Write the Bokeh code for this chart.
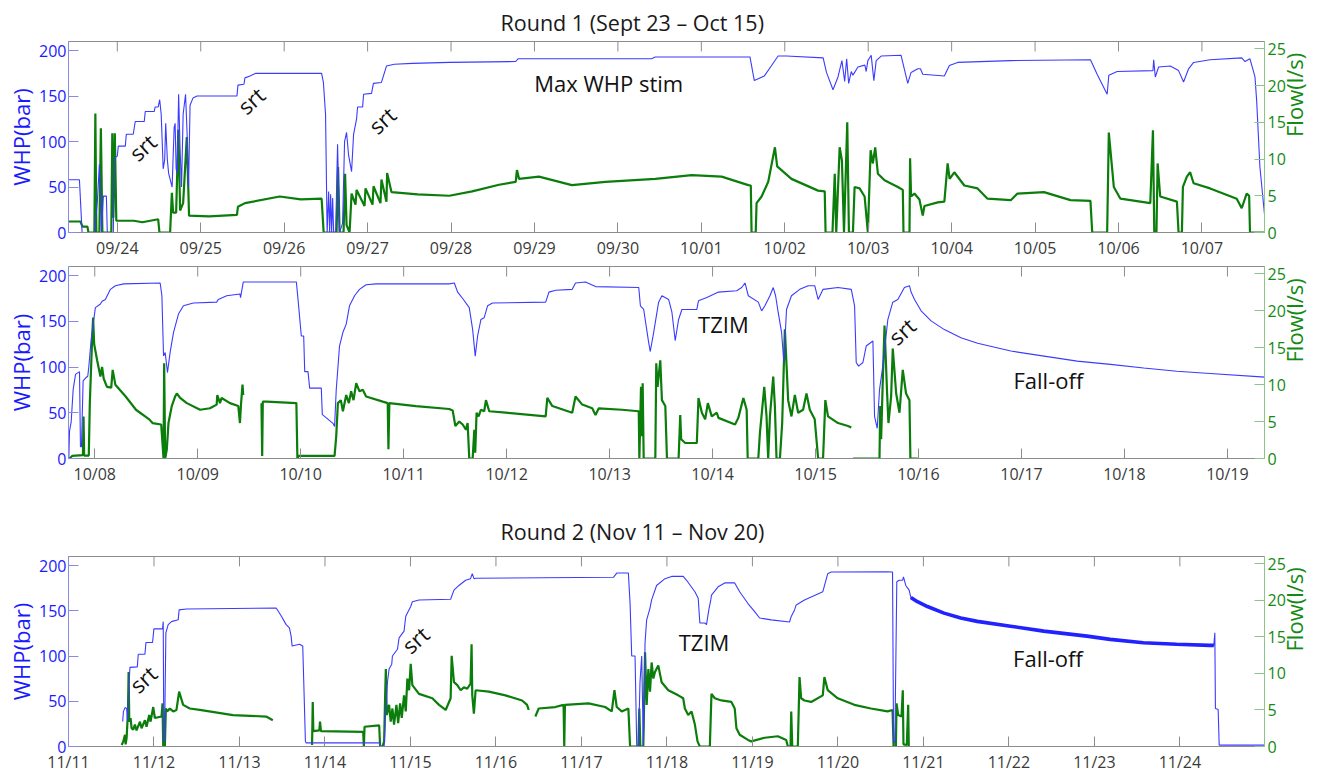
import math
from bokeh.plotting import figure
from bokeh.models import Range1d, LinearAxis, FixedTicker
from bokeh.layouts import column
from bokeh.embed import file_html
from bokeh.resources import INLINE
from bokeh.core.properties import value

nan = float("nan")

# ---------------- data (day of month, value) ----------------
r1_ticks = list(range(24, 38))
r1_labels = ["09/24", "09/25", "09/26", "09/27", "09/28", "09/29", "09/30",
             "10/01", "10/02", "10/03", "10/04", "10/05", "10/06", "10/07"]
r1b_ticks = list(range(8, 20))
r1b_labels = ["10/08", "10/09", "10/10", "10/11", "10/12", "10/13",
              "10/14", "10/15", "10/16", "10/17", "10/18", "10/19"]
r2_ticks = list(range(11, 25))
r2_labels = ["11/11", "11/12", "11/13", "11/14", "11/15", "11/16", "11/17",
             "11/18", "11/19", "11/20", "11/21", "11/22", "11/23", "11/24"]

whp_ticks = [0, 50, 100, 150, 200]
flow_ticks = [0, 5, 10, 15, 20, 25]

p1_whp = [(23.415, 58), (23.546, 58), (23.578, 0), (23.725, 0), (23.76, 33), (23.785, 75), (23.81, 0),
          (23.833, 40), (23.869, 40), (23.88, 0), (23.952, 0), (23.964, 82), (24.0, 84), (24.012, 95),
          (24.096, 95), (24.108, 108), (24.191, 108), (24.215, 122), (24.323, 122), (24.335, 133),
          (24.442, 133), (24.454, 138), (24.49, 138), (24.508, 146), (24.526, 130), (24.55, 70),
          (24.568, 80), (24.58, 120), (24.6, 80), (24.615, 65), (24.657, 50), (24.681, 115), (24.693, 120),
          (24.705, 70), (24.717, 65), (24.735, 152), (24.753, 90), (24.77, 50), (24.789, 130), (24.818, 152),
          (24.836, 110), (24.854, 50), (24.872, 140), (24.908, 148), (24.956, 150), (25.434, 150),
          (25.446, 162), (25.518, 163), (25.53, 170), (25.59, 172), (25.66, 175), (26.449, 175),
          (26.47, 165), (26.496, 130), (26.515, 0), (26.533, 45), (26.545, 0), (26.557, 42), (26.569, 0),
          (26.581, 38), (26.593, 0), (26.617, 0), (26.64, 97), (26.664, 0), (26.70, 10), (26.724, 100),
          (26.748, 110), (26.772, 85), (26.808, 67), (26.832, 108), (26.868, 125), (26.88, 138),
          (26.94, 138), (26.952, 152), (27.047, 153), (27.07, 164), (27.166, 165), (27.226, 183),
          (27.32, 185), (27.537, 186), (27.98, 187), (28.775, 188), (28.803, 191), (30.404, 191),
          (30.448, 193), (31.583, 193), (31.635, 167), (31.754, 172), (31.838, 183), (31.92, 194),
          (32.02, 194), (32.46, 192), (32.5, 176), (32.578, 157), (32.638, 171), (32.685, 189),
          (32.718, 166), (32.742, 191), (32.766, 164), (32.797, 177), (32.817, 173), (32.877, 182),
          (32.96, 184), (32.976, 177), (32.996, 189), (33.036, 194.8), (33.068, 167), (33.096, 189),
          (33.155, 194), (33.394, 194.8), (33.474, 164), (33.514, 176), (33.594, 180), (33.626, 180),
          (33.654, 174), (33.913, 172), (33.973, 183.6), (34.072, 187), (34.705, 189), (35.664, 190),
          (35.744, 174), (35.864, 152), (35.884, 173), (35.984, 177), (36.413, 178), (36.422, 190),
          (36.441, 171), (36.481, 182), (36.62, 183), (36.72, 178), (36.78, 165.5), (36.84, 180),
          (36.9, 187), (37.098, 190), (37.477, 192), (37.516, 188), (37.576, 191), (37.636, 171),
          (37.656, 145), (37.695, 72), (37.75, 20)]

p1_flow = [(23.418, 1.5), (23.558, 1.5), (23.582, 0.8), (23.642, 0.8), (23.654, 0), (23.725, 0),
           (23.737, 16.2), (23.749, 0), (23.785, 0), (23.803, 14.2), (23.821, 0), (23.928, 0),
           (23.94, 13.5), (23.952, 2), (23.97, 13.5), (23.988, 1.6), (24.2, 1.6), (24.3, 1.4), (24.49, 1.8),
           (24.505, 0), (24.633, 0), (24.654, 5.4), (24.669, 2.7), (24.705, 2.7), (24.732, 14), (24.753, 3),
           (24.789, 4), (24.833, 13), (24.86, 2.3), (25.1, 2.2), (25.434, 2.4), (25.446, 3.5), (25.53, 4.0),
           (25.947, 4.9), (26.2, 4.5), (26.449, 4.6), (26.473, 0), (26.628, 0), (26.646, 8.9), (26.664, 0),
           (26.712, 0), (26.73, 8), (26.748, 1), (26.784, 0), (26.808, 5.3), (26.855, 3.8), (26.868, 5.8),
           (26.963, 3.6), (26.975, 6.0), (27.059, 3.8), (27.071, 6.3), (27.154, 4.0), (27.166, 7.2),
           (27.226, 4.2), (27.234, 8.1), (27.286, 5.5), (27.6, 5.2), (27.98, 5.0), (28.253, 5.6),
           (28.576, 6.5), (28.775, 6.9), (28.79, 8.5), (28.815, 7.3), (29.054, 7.6), (29.448, 6.45),
           (29.851, 6.9), (30.448, 7.3), (30.885, 7.8), (31.244, 7.6), (31.563, 6.45), (31.593, 6.4),
           (31.602, 0), (31.652, 0), (31.662, 4.0), (31.722, 4.9), (31.802, 6.9), (31.882, 11.6),
           (31.909, 9), (32.08, 7.3), (32.399, 5.7), (32.479, 5.6), (32.489, 0), (32.572, 0), (32.599, 8.0),
           (32.617, 0), (32.658, 11.6), (32.685, 9.8), (32.71, 0), (32.749, 15.0), (32.769, 0), (32.817, 0),
           (32.837, 6.2), (32.897, 6.0), (32.957, 4.9), (32.996, 0), (33.029, 11.2), (33.056, 9.4),
           (33.084, 11.6), (33.116, 8.0), (33.196, 7.1), (33.355, 6.2), (33.415, 5.8), (33.423, 0),
           (33.495, 0), (33.502, 10.1), (33.514, 4.9), (33.554, 5.3), (33.614, 4.5), (33.654, 2.3),
           (33.674, 3.6), (33.833, 4.1), (33.913, 4.2), (33.952, 9.4), (33.976, 7.3), (34.032, 8.2),
           (34.152, 6.4), (34.311, 6.0), (34.43, 4.6), (34.709, 4.4), (34.789, 5.3), (35.107, 5.5),
           (35.425, 4.4), (35.664, 4.3), (35.685, 0), (35.864, 0), (35.884, 13.6), (35.944, 6.2),
           (36.023, 4.6), (36.381, 4.0), (36.413, 13.9), (36.429, 0), (36.455, 0), (36.469, 9.4),
           (36.5, 4.9), (36.7, 4.2), (36.72, 0), (36.76, 0), (36.772, 6.2), (36.82, 7.6), (36.859, 8.2),
           (36.9, 6.7), (37.098, 6.0), (37.417, 4.6), (37.477, 3.3), (37.536, 5.3), (37.566, 5.0),
           (37.576, 0), (37.75, 0)]

p2_whp = [(7.748, 0), (7.755, 30), (7.771, 40), (7.79, 75), (7.813, 92), (7.852, 95), (7.861, 13),
          (7.871, 13), (7.887, 85), (7.91, 88), (7.932, 90), (7.942, 100), (7.965, 130), (8.006, 165),
          (8.055, 169), (8.071, 172), (8.103, 174), (8.152, 185), (8.2, 189), (8.281, 191), (8.635, 192),
          (8.652, 178), (8.668, 112), (8.684, 116), (8.706, 94), (8.732, 116), (8.765, 138), (8.813, 158),
          (8.861, 167), (8.958, 170), (9.184, 171), (9.2, 174), (9.281, 178), (9.41, 180), (9.416, 176),
          (9.442, 193), (9.958, 193), (9.974, 174), (10.006, 134), (10.029, 134), (10.039, 95),
          (10.071, 95), (10.087, 77), (10.2, 77), (10.21, 48), (10.232, 46), (10.313, 38.5), (10.329, 35),
          (10.345, 75), (10.377, 123), (10.41, 138), (10.442, 147), (10.474, 167), (10.523, 178),
          (10.571, 185), (10.635, 190), (10.732, 191), (11.442, 191), (11.492, 192), (11.524, 182),
          (11.573, 175), (11.637, 165), (11.67, 141), (11.695, 112), (11.718, 134), (11.75, 152),
          (11.782, 154), (11.815, 167), (11.863, 170), (12.379, 171), (12.411, 182), (12.476, 184),
          (12.637, 185), (12.669, 192), (12.766, 193), (12.863, 188), (13.283, 187), (13.299, 167),
          (13.331, 163), (13.379, 127), (13.395, 117), (13.428, 138), (13.476, 171), (13.508, 178),
          (13.573, 174), (13.605, 160), (13.637, 129), (13.67, 152), (13.702, 163), (13.847, 163),
          (13.863, 172.5), (13.944, 176), (14.057, 182), (14.234, 183.5), (14.283, 187), (14.315, 192),
          (14.347, 178), (14.444, 171), (14.476, 161.5), (14.508, 167), (14.557, 178), (14.589, 187),
          (14.612, 178), (14.637, 160), (14.67, 138), (14.692, 105), (14.718, 163), (14.766, 178),
          (14.847, 185), (14.928, 189), (14.992, 189), (15.025, 174), (15.073, 185), (15.218, 187),
          (15.347, 185), (15.379, 167), (15.395, 105), (15.418, 101), (15.46, 105), (15.492, 123),
          (15.557, 128.5), (15.573, 46), (15.599, 33), (15.621, 75), (15.653, 101), (15.702, 152),
          (15.75, 171), (15.799, 174), (15.863, 187), (15.912, 189), (15.928, 182), (15.961, 174),
          (16.025, 161.5), (16.122, 150.5), (16.251, 141), (16.412, 132), (16.574, 126), (16.896, 117.5),
          (17.219, 112), (17.541, 106.5), (17.864, 103), (18.187, 99), (18.509, 95.5), (18.832, 93),
          (19.364, 89)]

p2_flow = [(7.755, 0), (7.78, 0.35), (7.885, 0.45), (7.891, 5.7), (7.897, 0.4), (7.942, 0.4), (7.952, 7.5),
           (7.974, 16), (7.984, 19.1), (7.994, 15.5), (8.023, 13.3), (8.055, 11.1), (8.071, 12.4),
           (8.087, 10.8), (8.119, 9.7), (8.16, 9.6), (8.174, 12.0), (8.2, 10.0), (8.3, 8.4), (8.4, 6.6),
           (8.529, 5.3), (8.561, 4.8), (8.645, 4.6), (8.668, 0), (8.674, 12.9), (8.684, 0), (8.7, 1.25),
           (8.716, 4.8), (8.748, 7.1), (8.781, 8.4), (8.797, 8.8), (8.829, 8.2), (8.894, 7.5), (9.023, 6.6),
           (9.119, 6.8), (9.184, 7.3), (9.19, 8.6), (9.216, 7.5), (9.232, 8.2), (9.313, 7.5), (9.394, 7.1),
           (9.41, 4.8), (9.42, 7.3), (9.435, 10), (9.442, 8.6), (nan, nan), (9.619, 7.5), (9.626, 0.35),
           (9.632, 7.7), (9.668, 7.7), (9.958, 7.5), (9.968, 0), (9.98, 0.35), (10.329, 0.35), (10.345, 3.0),
           (10.361, 7.5), (10.39, 7.9), (10.41, 6.4), (10.442, 8.6), (10.468, 7.5), (10.49, 9.1),
           (10.513, 7.9), (10.539, 10.2), (10.571, 9.1), (10.603, 9.3), (10.635, 8.4), (10.797, 7.7),
           (10.845, 7.5), (10.852, 1.25), (10.861, 7.5), (11.119, 7.1), (11.442, 6.7), (11.476, 6.5),
           (11.502, 4.4), (11.54, 5.0), (11.573, 4.6), (11.605, 3.9), (11.621, 4.8), (11.637, 0),
           (11.67, 0), (11.686, 3.9), (11.695, 0.8), (11.708, 6.2), (11.728, 5.7), (11.75, 6.6),
           (11.782, 6.4), (11.799, 7.9), (11.831, 6.4), (11.992, 6.2), (12.379, 5.7), (12.395, 8.2),
           (12.444, 7.1), (12.637, 6.2), (12.669, 8.4), (12.734, 7.3), (12.831, 6.8), (12.863, 5.9),
           (12.895, 6.8), (13.121, 6.6), (13.283, 6.4), (13.289, 0), (13.305, 9.7), (13.315, 3.0),
           (13.321, 10.2), (13.331, 0), (13.444, 0), (13.453, 12.9), (13.466, 9.7), (13.492, 13.3),
           (13.508, 7.9), (13.541, 7.1), (13.557, 0), (13.67, 0), (13.686, 5.9), (13.695, 2.6),
           (13.734, 2.1), (13.847, 2.1), (13.863, 8.2), (13.896, 6.2), (13.928, 5.3), (13.954, 7.5),
           (13.992, 5.7), (14.041, 6.2), (14.057, 5.5), (14.218, 4.6), (14.25, 5.5), (14.299, 8.2),
           (14.331, 6.6), (14.341, 0), (14.444, 0), (14.46, 3.5), (14.502, 9.7), (14.524, 5.7), (14.54, 0),
           (14.557, 5.7), (14.589, 11.1), (14.605, 7.1), (14.621, 0), (14.654, 0), (14.676, 4.8),
           (14.702, 17.5), (14.734, 7.9), (14.766, 5.7), (14.799, 8.6), (14.831, 6.2), (14.879, 6.6),
           (14.912, 8.8), (14.944, 6.6), (14.992, 5.3), (15.025, 0), (15.073, 0), (15.095, 7.9),
           (15.121, 5.7), (15.218, 4.8), (15.315, 4.4), (15.347, 4.2), (nan, nan), (15.363, 0), (15.621, 0),
           (15.628, 7.1), (15.637, 2.6), (15.653, 10.6), (15.67, 18), (15.695, 8.8), (15.708, 4.8),
           (15.734, 8.4), (15.75, 14.9), (15.783, 8.8), (15.815, 6.2), (15.847, 12), (15.879, 8.8),
           (15.912, 7.9), (15.921, 0), (15.992, 0)]

p3_whp = [(11.634, 27.6), (11.642, 38.5), (11.661, 43), (11.68, 42), (11.692, 27.6), (11.7, 56.6),
          (11.719, 87.5), (11.805, 88), (11.816, 102), (11.894, 102), (11.906, 115), (11.983, 115),
          (11.999, 130), (12.1, 130), (12.108, 138), (12.115, 6), (12.123, 6), (12.139, 125.6),
          (12.166, 134.7), (12.205, 138), (12.283, 140), (12.294, 151), (12.38, 152), (13.429, 153),
          (13.487, 144.5), (13.546, 134.7), (13.584, 131), (13.604, 122), (13.616, 111), (13.701, 113),
          (13.74, 111), (13.752, 71), (13.771, 6), (13.779, 4), (14.634, 4), (14.653, 0), (14.692, 0),
          (14.712, 42), (14.731, 71), (14.75, 85.7), (14.781, 91), (14.789, 100), (14.848, 107.5),
          (14.867, 120), (14.925, 127.5), (14.945, 144), (15.003, 154.7), (15.022, 160), (15.1, 162),
          (15.47, 162.7), (15.509, 172.8), (15.567, 178), (15.645, 183.7), (15.703, 185.5), (15.723, 191),
          (15.743, 185.5), (15.762, 186), (17.374, 187), (17.413, 191.7), (17.549, 191.7), (17.569, 158),
          (17.588, 100), (17.627, 100), (17.647, 0), (17.666, 0), (17.685, 71), (17.705, 100), (17.724, 0),
          (17.744, 115), (17.763, 140), (17.802, 153), (17.821, 162), (17.879, 178), (17.977, 185.5),
          (18.055, 188), (18.19, 188), (18.23, 183.7), (18.327, 171), (18.366, 163.8), (18.385, 136.5),
          (18.443, 136.5), (18.463, 134.7), (18.49, 151), (18.513, 162), (18.521, 167.4), (18.599, 176.5),
          (18.676, 180.8), (18.793, 180.8), (18.851, 171), (18.948, 158), (19.026, 149), (19.084, 142),
          (19.22, 140), (19.434, 137.6), (19.454, 143.8), (19.493, 151), (19.512, 156.5), (19.609, 162),
          (19.823, 171), (19.881, 191), (19.92, 192.8), (20.581, 193), (20.639, 192.8), (20.651, 5.8),
          (20.666, 4), (20.689, 182), (20.717, 183.7), (20.756, 183.7), (20.767, 187.4), (20.794, 178),
          (20.833, 172.8), (20.853, 164.8), (20.93, 160), (21.047, 154.7), (21.241, 147.4), (21.436, 142),
          (21.63, 138.3), (22.019, 133), (22.407, 127.5), (22.913, 122), (23.185, 118.4), (23.573, 114.7),
          (23.962, 113), (24.35, 111.8), (24.397, 111.8), (24.409, 125.6), (24.416, 42), (24.448, 41),
          (24.46, 1.5), (24.992, 1.5)]

p3_flow = [(11.622, 0.2), (11.641, 0.7), (11.661, 1.6), (11.668, 0.3), (11.68, 1.2), (11.696, 4.8),
           (11.703, 10.2), (11.711, 3.4), (11.726, 3.9), (11.738, 2.5), (11.757, 2.3), (11.777, 3.0),
           (11.796, 2.2), (11.836, 3.4), (11.855, 2.5), (11.894, 3.6), (11.913, 2.7), (11.944, 4.3),
           (11.96, 3.4), (11.991, 5.4), (12.01, 3.9), (12.088, 4.1), (12.1, 5.9), (12.108, 0), (12.127, 0),
           (12.139, 5.2), (12.154, 4.8), (12.185, 5.2), (12.224, 4.8), (12.263, 5.0), (12.294, 7.5),
           (12.341, 5.7), (12.419, 5.2), (12.535, 5.0), (12.924, 4.3), (13.312, 4.1), (13.39, 3.6),
           (nan, nan), (13.849, 0.2), (13.857, 6.1), (13.864, 2.1), (13.934, 2.2), (13.942, 3.4),
           (13.953, 2.1), (14.447, 2.0), (14.455, 0), (14.463, 2.7), (14.634, 2.9), (14.645, 0), (14.673, 0),
           (14.692, 0.7), (14.704, 7.0), (14.712, 10.6), (14.723, 4.3), (14.75, 5.7), (14.769, 3.4),
           (14.789, 5.2), (14.808, 3.0), (14.836, 5.7), (14.856, 3.2), (14.879, 5.9), (14.898, 3.9),
           (14.925, 7.0), (14.945, 4.8), (14.964, 9.3), (14.984, 7.7), (15.003, 11.3), (15.022, 8.4),
           (15.1, 7.2), (15.256, 6.6), (15.334, 5.7), (15.412, 5.0), (15.47, 6.6), (15.482, 12.4),
           (15.509, 8.8), (15.548, 8.4), (15.587, 7.7), (15.625, 8.1), (15.664, 7.9), (15.703, 8.6),
           (15.715, 14.0), (15.723, 7.0), (15.742, 4.5), (15.762, 7.7), (15.917, 7.5), (16.111, 7.0),
           (16.306, 6.3), (16.364, 5.7), (16.383, 5.0), (nan, nan), (16.461, 4.1), (16.5, 5.2),
           (16.694, 5.4), (16.791, 5.7), (16.799, 0), (16.807, 5.7), (17.083, 5.9), (17.277, 5.4),
           (17.355, 4.8), (17.386, 7.7), (17.413, 5.4), (17.471, 4.8), (17.549, 5.2), (17.569, 0),
           (17.666, 0), (17.677, 5.2), (17.689, 0), (17.724, 0), (17.744, 12.9), (17.763, 5.7),
           (17.783, 10.6), (17.802, 7.5), (17.821, 11.5), (17.841, 9.3), (17.86, 10.2), (17.899, 11.1),
           (17.938, 8.8), (18.016, 7.7), (18.132, 7.0), (18.19, 6.6), (18.21, 5.2), (18.249, 4.3),
           (18.288, 4.8), (18.327, 3.0), (18.346, 1.6), (18.358, 0.7), (18.385, 0), (18.502, 0),
           (18.521, 7.2), (18.56, 6.6), (18.637, 6.3), (18.754, 6.1), (18.793, 5.2), (18.813, 2.5),
           (18.851, 1.6), (18.948, 0.9), (18.987, 0.7), (19.143, 1.2), (19.298, 1.4), (19.395, 0.9),
           (19.415, 0), (19.446, 0), (19.454, 4.8), (19.466, 0), (19.531, 0), (19.551, 9.5), (19.57, 6.6),
           (19.609, 6.3), (19.687, 6.1), (19.823, 7.0), (19.842, 9.5), (19.881, 7.7), (19.998, 6.6),
           (20.192, 5.7), (20.386, 5.2), (20.581, 4.8), (20.639, 5.0), (20.651, 0), (20.678, 0),
           (20.686, 5.9), (20.705, 4.3), (20.744, 4.1), (20.759, 7.7), (20.767, 0.3), (20.806, 0.2),
           (20.822, 5.7), (20.829, 0)]

p1_notes = [("srt", 24.30, 94, 42), ("srt", 25.60, 145.5, 42), ("srt", 27.17, 123.7, 42),
            ("Max WHP stim", 29.89, 164, 0)]
p2_notes = [("TZIM", 14.105, 147, 0), ("srt", 15.837, 139.5, 42), ("Fall-off", 17.261, 85.6, 0)]
p3_notes = [("srt", 11.871, 74.8, 42), ("srt", 15.054, 118.4, 42), ("TZIM", 18.434, 115.1, 0),
            ("Fall-off", 22.457, 97.7, 0)]

title1 = "Round 1 (Sept 23 \u2013 Oct 15)"
title2 = "Round 2 (Nov 11 \u2013 Nov 20)"
whp_label = "WHP(bar)"
flow_label = "Flow(l/s)"

# ---------------- styling ----------------
BLUE = "#3b3bff"
BLUE_TXT = "#1a1aff"
GREEN = "#0b7d0b"
GREEN_TXT = "#138a13"
GRAY = "#8c8c8c"
FONT = "Open Sans"
Y_MAX = 210


def make_panel(height, b_top, b_bottom, xr, ticks, labels, whp, flow, notes,
               title=None, title_standoff=10, thick=None):
    p = figure(width=1326, height=height, x_range=Range1d(*xr), y_range=Range1d(0, Y_MAX),
               output_backend="svg", toolbar_location=None, x_axis_type=None, y_axis_type=None,
               min_border_left=68, min_border_right=58, min_border_top=b_top, min_border_bottom=b_bottom,
               background_fill_color="white", border_fill_color="white")
    p.outline_line_color = GRAY
    p.extra_y_ranges = {"flow": Range1d(0, 26)}
    frame_h = height - b_top - b_bottom

    over = {t: l for t, l in zip(ticks, labels)}
    xb = LinearAxis(ticker=FixedTicker(ticks=ticks), major_label_overrides=over)
    xb.axis_line_color = GRAY
    xb.major_tick_line_color = GRAY
    xb.major_tick_in = 10
    xb.major_tick_out = 0
    xb.minor_tick_in = 0
    xb.minor_tick_out = 0
    xb.major_label_text_font = FONT
    xb.major_label_text_font_size = "16px"
    xb.major_label_text_color = "#3a3a3a"
    xb.major_label_standoff = 4
    p.add_layout(xb, "below")

    # inward tick marks along the top edge of the box
    tick_len = 10.0 * Y_MAX / frame_h
    p.segment(x0=ticks, y0=[Y_MAX] * len(ticks), x1=ticks, y1=[Y_MAX - tick_len] * len(ticks),
              line_color=GRAY, line_width=1)

    yl = LinearAxis(ticker=FixedTicker(ticks=whp_ticks), axis_label=whp_label)
    yr = LinearAxis(y_range_name="flow", ticker=FixedTicker(ticks=flow_ticks), axis_label=flow_label)
    for ax, c, lc in ((yl, BLUE_TXT, "#8a8ae6"), (yr, GREEN_TXT, "#8cc48c")):
        ax.axis_line_color = lc
        ax.major_tick_line_color = lc
        ax.major_tick_in = 10
        ax.major_tick_out = 0
        ax.minor_tick_in = 0
        ax.minor_tick_out = 0
        ax.major_label_text_color = c
        ax.major_label_text_font = FONT
        ax.major_label_text_font_size = "16px"
        ax.axis_label_text_color = c
        ax.axis_label_text_font = FONT
        ax.axis_label_text_font_size = "22px"
        ax.axis_label_text_font_style = "normal"
    yl.major_label_standoff = 2
    yl.axis_label_standoff = 0
    yr.major_label_standoff = 3
    yr.axis_label_standoff = 5
    try:
        yr.axis_label_orientation = math.pi / 2
    except Exception:
        pass
    p.add_layout(yl, "left")
    p.add_layout(yr, "right")

    fd, fv = zip(*flow)
    p.line(list(fd), list(fv), color=GREEN, line_width=2.2, y_range_name="flow")
    wd, wv = zip(*whp)
    p.line(list(wd), list(wv), color=BLUE, line_width=1.1)
    if thick is not None:
        td = [d for d, v in whp if thick[0] <= d <= thick[1]]
        tv = [v for d, v in whp if thick[0] <= d <= thick[1]]
        p.line(td, tv, color="#2222ff", line_width=3.6)

    for txt, x, y, ang in notes:
        p.text(x=[x], y=[y], text=[txt], angle=math.radians(ang), text_font=value(FONT),
               text_font_size="22px", text_align="center", text_baseline="middle", text_color="#111111")

    if title:
        p.title.text = title
        p.title.text_font = FONT
        p.title.text_font_size = "21.5px"
        p.title.text_font_style = "normal"
        p.title.text_color = "#1a1a1a"
        p.title.align = "left"
        p.title.offset = 432
        p.title.standoff = title_standoff
    return p


p1 = make_panel(261, 41, 28, (23.415, 37.75), r1_ticks, r1_labels, p1_whp, p1_flow, p1_notes,
                title=title1, title_standoff=10)
p2 = make_panel(235, 5, 38, (7.745, 19.36), r1b_ticks, r1b_labels, p2_whp, p2_flow, p2_notes)
p3 = make_panel(279, 60, 26, (11.0, 24.99), r2_ticks, r2_labels, p3_whp, p3_flow, p3_notes,
                title=title2, title_standoff=22, thick=(20.85, 24.40))

layout = column(p1, p2, p3, spacing=0)
open("out.html", "w").write(file_html(layout, INLINE))
